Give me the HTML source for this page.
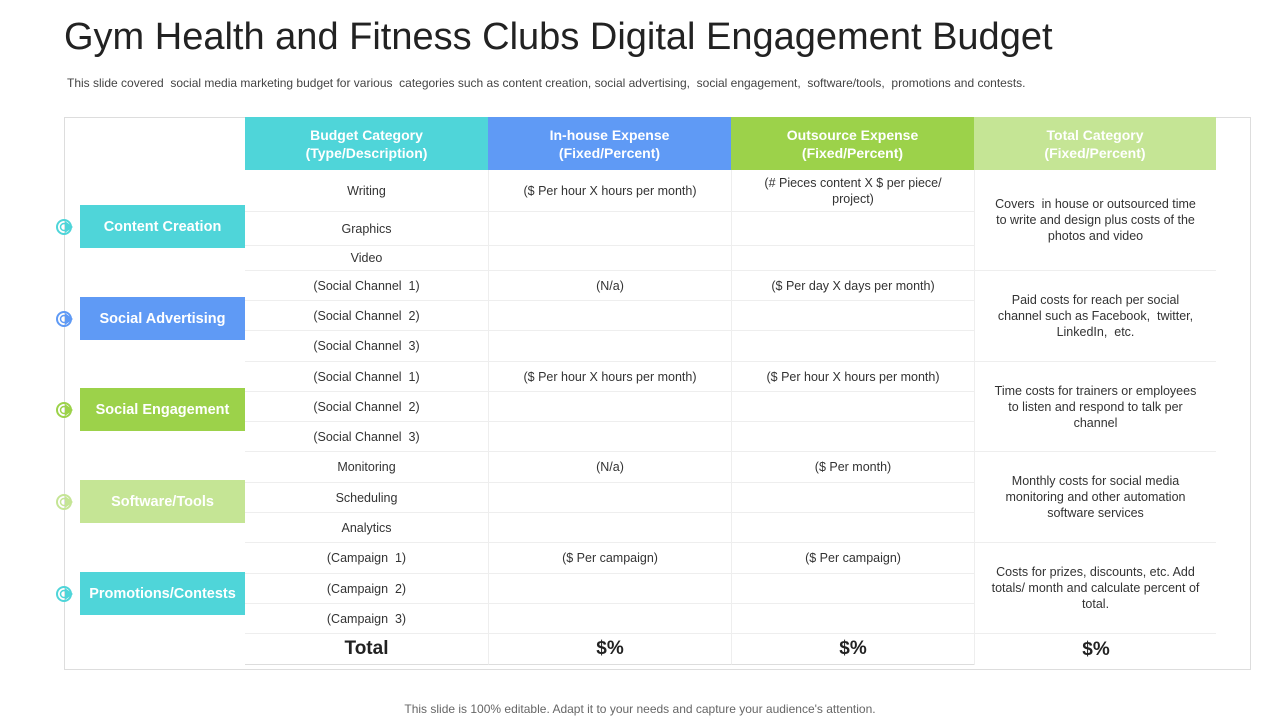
<!DOCTYPE html>
<html><head><meta charset="utf-8"><style>
body{margin:0;width:1280px;height:720px;background:#fff;font-family:"Liberation Sans",sans-serif;position:relative;overflow:hidden}
.a{position:absolute}
.c{position:absolute;display:flex;align-items:center;justify-content:center;text-align:center;font-size:12.5px;color:#333;line-height:16px}
.h{color:#fff;font-weight:bold;font-size:14px;line-height:18px}
.lab{position:absolute;display:flex;align-items:center;justify-content:center;color:#fff;font-weight:bold;font-size:14.5px}
</style></head><body>
<div class="a" style="left:64px;top:16px;font-size:38px;color:#222">Gym Health and Fitness Clubs Digital Engagement Budget</div>
<div class="a" style="left:67px;top:76px;font-size:12px;color:#444">This slide covered&nbsp; social media marketing budget for various&nbsp; categories such as content creation, social advertising,&nbsp; social engagement,&nbsp; software/tools,&nbsp; promotions and contests.</div>
<div class="a" style="left:64px;top:117px;width:1185px;height:551px;border:1px solid #ddd"></div>
<div class="a" style="left:0;width:1280px;top:702px;text-align:center;font-size:12px;color:#666">This slide is 100% editable. Adapt it to your needs and capture your audience's attention.</div>
<div id="t"></div>
<script>
const cols=[245,488,731,974,1216];
const heads=["Budget Category<br>(Type/Description)","In-house Expense<br>(Fixed/Percent)","Outsource Expense<br>(Fixed/Percent)","Total Category<br>(Fixed/Percent)"];
const hcol=["#4fd5d9","#5f9af5","#9cd24a","#c5e595"];
const rb=[170,212,246,271,301,331,362,392,422,452,483,513,543,574,604,634,664];
const c1=["Writing","Graphics","Video","(Social Channel&nbsp; 1)","(Social Channel&nbsp; 2)","(Social Channel&nbsp; 3)","(Social Channel&nbsp; 1)","(Social Channel&nbsp; 2)","(Social Channel&nbsp; 3)","Monitoring","Scheduling","Analytics","(Campaign&nbsp; 1)","(Campaign&nbsp; 2)","(Campaign&nbsp; 3)"];
const c2={0:"($ Per hour X hours per month)",3:"(N/a)",6:"($ Per hour X hours per month)",9:"(N/a)",12:"($ Per campaign)"};
const c3={0:"(# Pieces content X $ per piece/<br>project)",3:"($ Per day X days per month)",6:"($ Per hour X hours per month)",9:"($ Per month)",12:"($ Per campaign)"};
const c4=["Covers&nbsp; in house or outsourced time to write and design plus costs of the photos and video","Paid costs for reach per social channel such as Facebook,&nbsp; twitter, LinkedIn,&nbsp; etc.","Time costs for trainers or employees to listen and respond to talk per channel","Monthly costs for social media monitoring and other automation software services","Costs for prizes, discounts, etc. Add totals/ month and calculate percent of total."];
const labs=["Content Creation","Social Advertising","Social Engagement","Software/Tools","Promotions/Contests"];
const lcol=["#4fd5d9","#5f9af5","#9cd24a","#c5e595","#4fd5d9"];
const ly=[205,297,388,480,572];
const T=document.getElementById('t');
function mk(cls,x,y,w,h,html,st){const d=document.createElement('div');d.className=cls;d.style.left=x+'px';d.style.top=y+'px';d.style.width=w+'px';d.style.height=h+'px';if(st)d.style.cssText+=st;d.innerHTML=html||'';T.appendChild(d);return d;}
heads.forEach((h,i)=>{const d=mk('c h',cols[i],117,cols[i+1]-cols[i],53,h,'background:'+hcol[i]);

});
for(let r=0;r<15;r++){const y=rb[r],h=rb[r+1]-rb[r];
 for(let c=0;c<3;c++){let txt=c==0?c1[r]:(c==1?c2[r]:c3[r])||'';
  const st='border-bottom:1px solid #eee;box-sizing:border-box;'+(c>0?'border-left:1px solid #eee;':'')+(c==2?'align-items:flex-start;padding-top:5px;':'');
  const d=mk('c',cols[c],y,cols[c+1]-cols[c],h,txt,c==2&&r==0?st:(c==2?'border-bottom:1px solid #eee;box-sizing:border-box;border-left:1px solid #eee;':st));
  
  }}
for(let g=0;g<5;g++){const y=rb[g*3],h=rb[g*3+3]-y;
 const d=mk('c',cols[3],y,cols[4]-cols[3],h,c4[g],'border-bottom:1px solid #eee;border-left:1px solid #eee;box-sizing:border-box;padding:0 14px;');
 
 
 const l=mk('lab',80,ly[g],165,43,labs[g],'background:'+lcol[g]);
 
 
 const ic=mk('a',56,ly[g]+13,18,18,'<svg width="18" height="18"><circle cx="8" cy="9" r="7" fill="none" stroke="'+lcol[g]+'" stroke-width="2"/><circle cx="8" cy="9" r="3.5" fill="none" stroke="'+lcol[g]+'" stroke-width="1.5"/><path d="M9 3 L17 9 L9 15Z" fill="'+lcol[g]+'"/></svg>');
 
 }
["Total","$%","$%","$%"].forEach((t,i)=>{const d=mk('c',cols[i],634,cols[i+1]-cols[i],31,t,'font-weight:bold;font-size:19px;color:#222;'+(i<3?'border-bottom:1px solid #ddd;box-sizing:border-box;':'')+(i>0?'border-left:1px solid #eee;':''));
 
 });
</script>
</body></html>
